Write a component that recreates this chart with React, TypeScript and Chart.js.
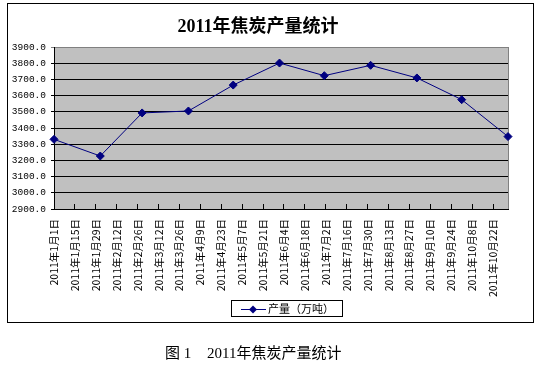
import React, { useEffect, useRef } from "react";
import { Chart, registerables } from "chart.js";

Chart.register(...registerables);

const chartTitle = "2011年焦炭产量统计";
const captionPrefix = "图 1";
const captionText = "2011年焦炭产量统计";
const seriesLabel = "产量（万吨）";

const pointDates = [
  "2011-01-01", "2011-02-01", "2011-03-01", "2011-04-01", "2011-05-01", "2011-06-01",
  "2011-07-01", "2011-08-01", "2011-09-01", "2011-10-01", "2011-11-01",
];
const outputValues = [3330, 3227, 3493, 3505, 3665, 3801, 3723, 3787, 3709, 3575, 3347];

const tickLabels = [
  "2011年1月1日", "2011年1月15日", "2011年1月29日", "2011年2月12日", "2011年2月26日",
  "2011年3月12日", "2011年3月26日", "2011年4月9日", "2011年4月23日", "2011年5月7日",
  "2011年5月21日", "2011年6月4日", "2011年6月18日", "2011年7月2日", "2011年7月16日",
  "2011年7月30日", "2011年8月13日", "2011年8月27日", "2011年9月10日", "2011年9月24日",
  "2011年10月8日", "2011年10月22日",
];
const axisStart = "2011-01-01";
const axisEnd = "2011-11-01";
const yMin = 2900;
const yMax = 3900;
const yStep = 100;

const DAY = 86400000;
const t0 = Date.parse(axisStart + "T00:00:00Z");
const dayOf = (s: string) => (Date.parse(s + "T00:00:00Z") - t0) / DAY;
const labelDay = (l: string) => {
  const m = l.match(/(\d+)年(\d+)月(\d+)日/);
  if (!m) return 0;
  return (Date.UTC(+m[1], +m[2] - 1, +m[3]) - t0) / DAY;
};
const tickDays = tickLabels.map(labelDay);

const decorPlugin = {
  id: "decor",
  beforeDraw(chart: any) {
    const { ctx, chartArea: a } = chart;
    ctx.save();
    ctx.fillStyle = "#ffffff";
    ctx.fillRect(0, 0, chart.width, chart.height);
    ctx.fillStyle = "#c0c0c0";
    ctx.fillRect(a.left, a.top, a.right - a.left, a.bottom - a.top);
    ctx.strokeStyle = "#808080";
    ctx.lineWidth = 1;
    ctx.beginPath();
    ctx.moveTo(Math.round(a.right) + 0.5, a.top);
    ctx.lineTo(Math.round(a.right) + 0.5, a.bottom);
    ctx.stroke();
    ctx.restore();
  },
  afterDraw(chart: any) {
    const { ctx } = chart;
    ctx.save();
    // outer frame
    ctx.strokeStyle = "#000000";
    ctx.lineWidth = 1;
    ctx.strokeRect(7.5, 3.5, 526, 319);
    // title
    ctx.fillStyle = "#000000";
    ctx.font = 'bold 18px "Liberation Serif", "Noto Sans CJK SC"';
    ctx.textAlign = "center";
    ctx.textBaseline = "middle";
    ctx.fillText(chartTitle, 258, 27);
    // legend
    ctx.strokeRect(231.5, 300.5, 111, 16);
    ctx.strokeStyle = "#000080";
    ctx.beginPath();
    ctx.moveTo(241, 309.5);
    ctx.lineTo(266, 309.5);
    ctx.stroke();
    ctx.fillStyle = "#000080";
    ctx.beginPath();
    ctx.moveTo(253, 305.5);
    ctx.lineTo(257, 309.5);
    ctx.lineTo(253, 313.5);
    ctx.lineTo(249, 309.5);
    ctx.closePath();
    ctx.fill();
    ctx.fillStyle = "#000000";
    ctx.font = '11px "Noto Sans CJK SC"';
    ctx.textAlign = "left";
    ctx.fillText(seriesLabel, 268, 309);
    // caption
    ctx.font = '15px "Liberation Serif", "Noto Sans CJK SC"';
    ctx.fillText(captionPrefix, 165, 354);
    ctx.fillText(captionText, 207, 354);
    ctx.restore();
  },
};

export default function App() {
  const ref = useRef<HTMLCanvasElement>(null);
  useEffect(() => {
    if (!ref.current) return;
    const chart = new Chart(ref.current, {
      type: "line",
      data: {
        datasets: [
          {
            label: seriesLabel,
            data: pointDates.map((d, i) => ({ x: dayOf(d), y: outputValues[i] })),
            borderColor: "#000080",
            backgroundColor: "#000080",
            borderWidth: 1,
            pointStyle: "rectRot",
            pointRadius: 4,
            pointHoverRadius: 4,
            tension: 0,
            clip: false as any,
          },
        ],
      },
      options: {
        responsive: false,
        animation: false,
        layout: { padding: { left: 8, top: 47, right: 38, bottom: 59 } },
        plugins: {
          legend: { display: false },
          title: { display: false },
          tooltip: { enabled: false },
        },
        scales: {
          x: {
            type: "linear",
            min: 0,
            max: dayOf(axisEnd),
            afterBuildTicks: (scale: any) => {
              scale.ticks = tickDays.map((v) => ({ value: v }));
            },
            afterFit: (scale: any) => {
              scale.height = 100;
            },
            grid: {
              display: true,
              drawOnChartArea: false,
              drawTicks: true,
              tickLength: -5,
              color: "#000000",
            },
            border: { display: true, color: "#000000" },
            ticks: {
              autoSkip: false,
              maxRotation: 90,
              minRotation: 90,
              padding: 15,
              color: "#000000",
              font: { family: '"Noto Sans CJK SC"', size: 10.5 },
              callback: (_v: any, i: number) => tickLabels[i],
            },
          },
          y: {
            min: yMin,
            max: yMax,
            afterFit: (scale: any) => {
              scale.width = 46;
            },
            grid: {
              color: (c: any) => (c.tick && c.tick.value === yMax ? "#808080" : "#000000"),
              tickLength: 3,
            },
            border: { display: true, color: "#000000" },
            ticks: {
              stepSize: yStep,
              padding: 5,
              color: "#000000",
              font: { family: '"Liberation Mono"', size: 9.5 },
              callback: (v: any) => Number(v).toFixed(1),
            },
          },
        },
      },
      plugins: [decorPlugin],
    });
    return () => chart.destroy();
  }, []);
  return (
    <div style={{ position: "absolute", left: 0, top: 0, width: 546, height: 368 }}>
      <canvas ref={ref} width={546} height={368} style={{ display: "block" }} />
    </div>
  );
}
